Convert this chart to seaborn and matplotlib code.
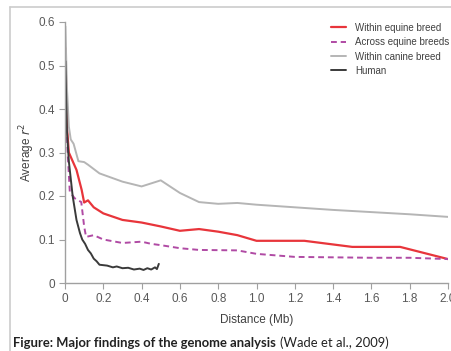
import numpy as np
import pandas as pd
import matplotlib.pyplot as plt
import seaborn as sns
from matplotlib.lines import Line2D

# distances (Mb) and average r^2
equine_x = [0.002, 0.01, 0.02, 0.06, 0.087, 0.1, 0.12, 0.15, 0.2, 0.3, 0.4, 0.5,
            0.6, 0.7, 0.8, 0.9, 1.0, 1.25, 1.5, 1.75, 2.0]
equine_y = [0.54, 0.36, 0.30, 0.26, 0.214, 0.185, 0.19, 0.174, 0.16, 0.145, 0.139, 0.13,
            0.12, 0.124, 0.118, 0.11, 0.097, 0.097, 0.083, 0.083, 0.055]

across_x = [0.005, 0.015, 0.025, 0.05, 0.085, 0.1, 0.11, 0.15, 0.2, 0.3, 0.4, 0.45,
            0.5, 0.6, 0.7, 0.9, 1.0, 1.2, 1.4, 1.6, 1.8, 2.0]
across_y = [0.38, 0.29, 0.21, 0.195, 0.186, 0.13, 0.106, 0.11, 0.10, 0.092, 0.095, 0.09,
            0.087, 0.08, 0.076, 0.075, 0.067, 0.06, 0.059, 0.058, 0.058, 0.055]

canine_x = [0.002, 0.01, 0.02, 0.03, 0.045, 0.07, 0.1, 0.12, 0.18, 0.3, 0.4, 0.5,
            0.6, 0.7, 0.8, 0.9, 1.0, 1.2, 1.4, 1.6, 1.8, 2.0]
canine_y = [0.59, 0.45, 0.36, 0.33, 0.32, 0.28, 0.278, 0.272, 0.252, 0.233, 0.222, 0.236,
            0.207, 0.186, 0.182, 0.184, 0.18, 0.174, 0.168, 0.163, 0.158, 0.152]

human_x = [0.002, 0.01, 0.02, 0.04, 0.06, 0.078, 0.09, 0.105, 0.12, 0.135, 0.15, 0.165,
           0.18, 0.2, 0.22, 0.25, 0.27, 0.3, 0.33, 0.36, 0.39, 0.41, 0.43, 0.45,
           0.47, 0.48, 0.49]
human_y = [0.51, 0.35, 0.28, 0.20, 0.145, 0.115, 0.10, 0.09, 0.076, 0.068, 0.056, 0.05,
           0.042, 0.041, 0.04, 0.036, 0.038, 0.034, 0.035, 0.031, 0.033, 0.03, 0.034, 0.031,
           0.036, 0.032, 0.044]

x_ticks = [0, 0.2, 0.4, 0.6, 0.8, 1.0, 1.2, 1.4, 1.6, 1.8, 2.0]
x_labels = ['0', '0.2', '0.4', '0.6', '0.8', '1.0', '1.2', '1.4', '1.6', '1.8', '2.0']
y_ticks = [0, 0.1, 0.2, 0.3, 0.4, 0.5, 0.6]
y_labels = ['0', '0.1', '0.2', '0.3', '0.4', '0.5', '0.6']

sns.set_style('white')
plt.rcParams['font.family'] = ['Liberation Sans', 'DejaVu Sans']

fig = plt.figure(figsize=(4.51, 3.51), dpi=100)
ax = fig.add_axes([65 / 451, 1 - 283 / 351, 383 / 451, 261 / 351])

series = [
    (equine_x, equine_y, 'Within equine breed', '#e8353b', '-', 1.6),
    (across_x, across_y, 'Across equine breeds', '#b04aa4', (0, (3, 2)), 1.4),
    (canine_x, canine_y, 'Within canine breed', '#b5b5b5', '-', 1.4),
    (human_x, human_y, 'Human', '#3a3a3a', '-', 1.4),
]
for xs, ys, name, col, ls, lw in series:
    sns.lineplot(x=xs, y=ys, ax=ax, color=col, linestyle=ls, linewidth=lw,
                 label=name, sort=False, estimator=None)

ax.set_xlim(0, 2.0)
ax.set_ylim(0, 0.6)
ax.set_xticks(x_ticks)
ax.set_xticklabels(x_labels)
ax.set_yticks(y_ticks)
ax.set_yticklabels(y_labels)
ax.tick_params(axis='both', direction='out', length=4, width=0.8, color='#a0a0a0',
               labelsize=8.5, labelcolor='#595959', pad=3, bottom=True, left=True)
for side in ['top', 'right']:
    ax.spines[side].set_visible(False)
for side in ['left', 'bottom']:
    ax.spines[side].set_color('#a0a0a0')
    ax.spines[side].set_linewidth(1.0)

ax.set_xlabel('Distance (Mb)', fontsize=8.5, color='#404040', labelpad=7)
ax.set_ylabel('Average $r^2$', fontsize=8.5, color='#404040', labelpad=1)

leg = ax.legend(loc='upper left', bbox_to_anchor=(322 / 451, 1 - 14 / 351),
                bbox_transform=fig.transFigure, frameon=False, fontsize=7,
                handlelength=1.6, labelspacing=0.45, handletextpad=0.9)
for t in leg.get_texts():
    t.set_color('#404040')

# page frame
fig.add_artist(Line2D([10 / 451, 1], [1 - 7 / 351] * 2, transform=fig.transFigure,
                      color='#cccccc', linewidth=1.2))
fig.add_artist(Line2D([10 / 451] * 2, [0, 1 - 7 / 351], transform=fig.transFigure,
                      color='#cccccc', linewidth=1.2))

# caption
cap = fig.text(13 / 451, 1 - 343 / 351, 'Figure: Major findings of the genome analysis',
               fontsize=9.4, fontweight='bold', family='Lato', color='#222222',
               va='center', ha='left')
fig.canvas.draw()
bb = cap.get_window_extent()
fig.text((bb.x1 + 4) / 451, 1 - 343 / 351, '(Wade et al., 2009)', fontsize=9.4,
         family='Lato', color='#222222', va='center', ha='left')

fig.savefig('out.png', dpi=100)
